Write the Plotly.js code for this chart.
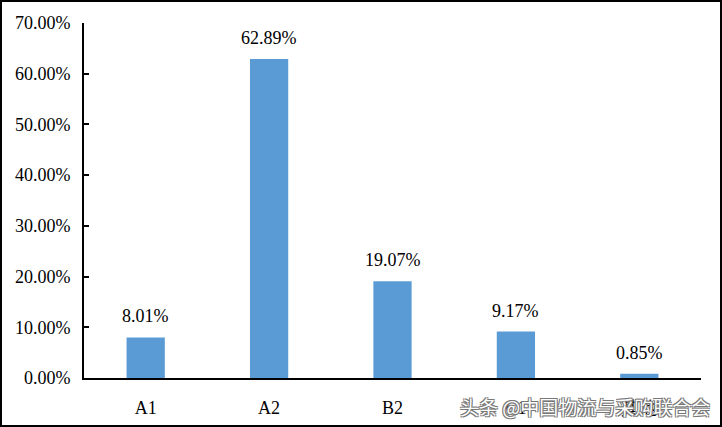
<!DOCTYPE html>
<html><head><meta charset="utf-8">
<script src="https://cdn.plot.ly/plotly-3.0.1.min.js"></script>
<style>
html,body{margin:0;padding:0;background:#fff;}
#wrap{width:722px;height:427px;box-sizing:border-box;border:2px solid #000;overflow:hidden;}
#chart{width:718px;height:423px;}
</style></head>
<body><div id="wrap"><div id="chart"></div></div>
<script>
const categories = ["A1", "A2", "B2", "C1", "其他"];
const shares = [0.0801, 0.6289, 0.1907, 0.0917, 0.0085];
const labels = ["8.01%", "62.89%", "19.07%", "9.17%", "0.85%"];
const watermark = "头条 @中国物流与采购联合会";

const serif = "Liberation Serif";
const trace = {
  type: "bar", x: categories, y: shares,
  marker: {color: "#5B9BD5"}, width: 0.31,
  hoverinfo: "skip"
};
const valueNotes = categories.map((c, i) => ({
  x: c, y: shares[i], xref: "x", yref: "y", text: labels[i], showarrow: false,
  xanchor: "center", yanchor: "bottom", yshift: 9,
  font: {family: serif, size: 18, color: "#000"}
}));
const layout = {
  width: 718, height: 423,
  margin: {l: 82, r: 19, t: 21, b: 47},
  paper_bgcolor: "#fff", plot_bgcolor: "#fff",
  showlegend: false,
  font: {family: serif, size: 18, color: "#000"},
  xaxis: {showline: true, linecolor: "#000", linewidth: 2, ticks: "", showgrid: false,
          zeroline: false, ticklabelstandoff: 12, tickfont: {family: serif, size: 18}},
  yaxis: {range: [0, 0.7], dtick: 0.1, tickformat: ".2%", showline: true, linecolor: "#000",
          linewidth: 2, ticks: "inside", ticklen: 5, tickwidth: 2, tickcolor: "#000",
          showgrid: false, zeroline: false, ticklabelstandoff: 8, tickfont: {family: serif, size: 18}},
  annotations: valueNotes.concat([{
    xref: "paper", yref: "paper", x: 1.018, y: -0.079, xanchor: "right", yanchor: "middle",
    text: watermark, showarrow: false,
    font: {family: "Noto Sans CJK SC", size: 19, color: "#fff",
           shadow: "1px 1px 0 #777, -1px -1px 0 #777, 1px -1px 0 #777, -1px 1px 0 #777"}
  }])
};
Plotly.newPlot("chart", [trace], layout, {displayModeBar: false, staticPlot: true});
</script></body></html>
